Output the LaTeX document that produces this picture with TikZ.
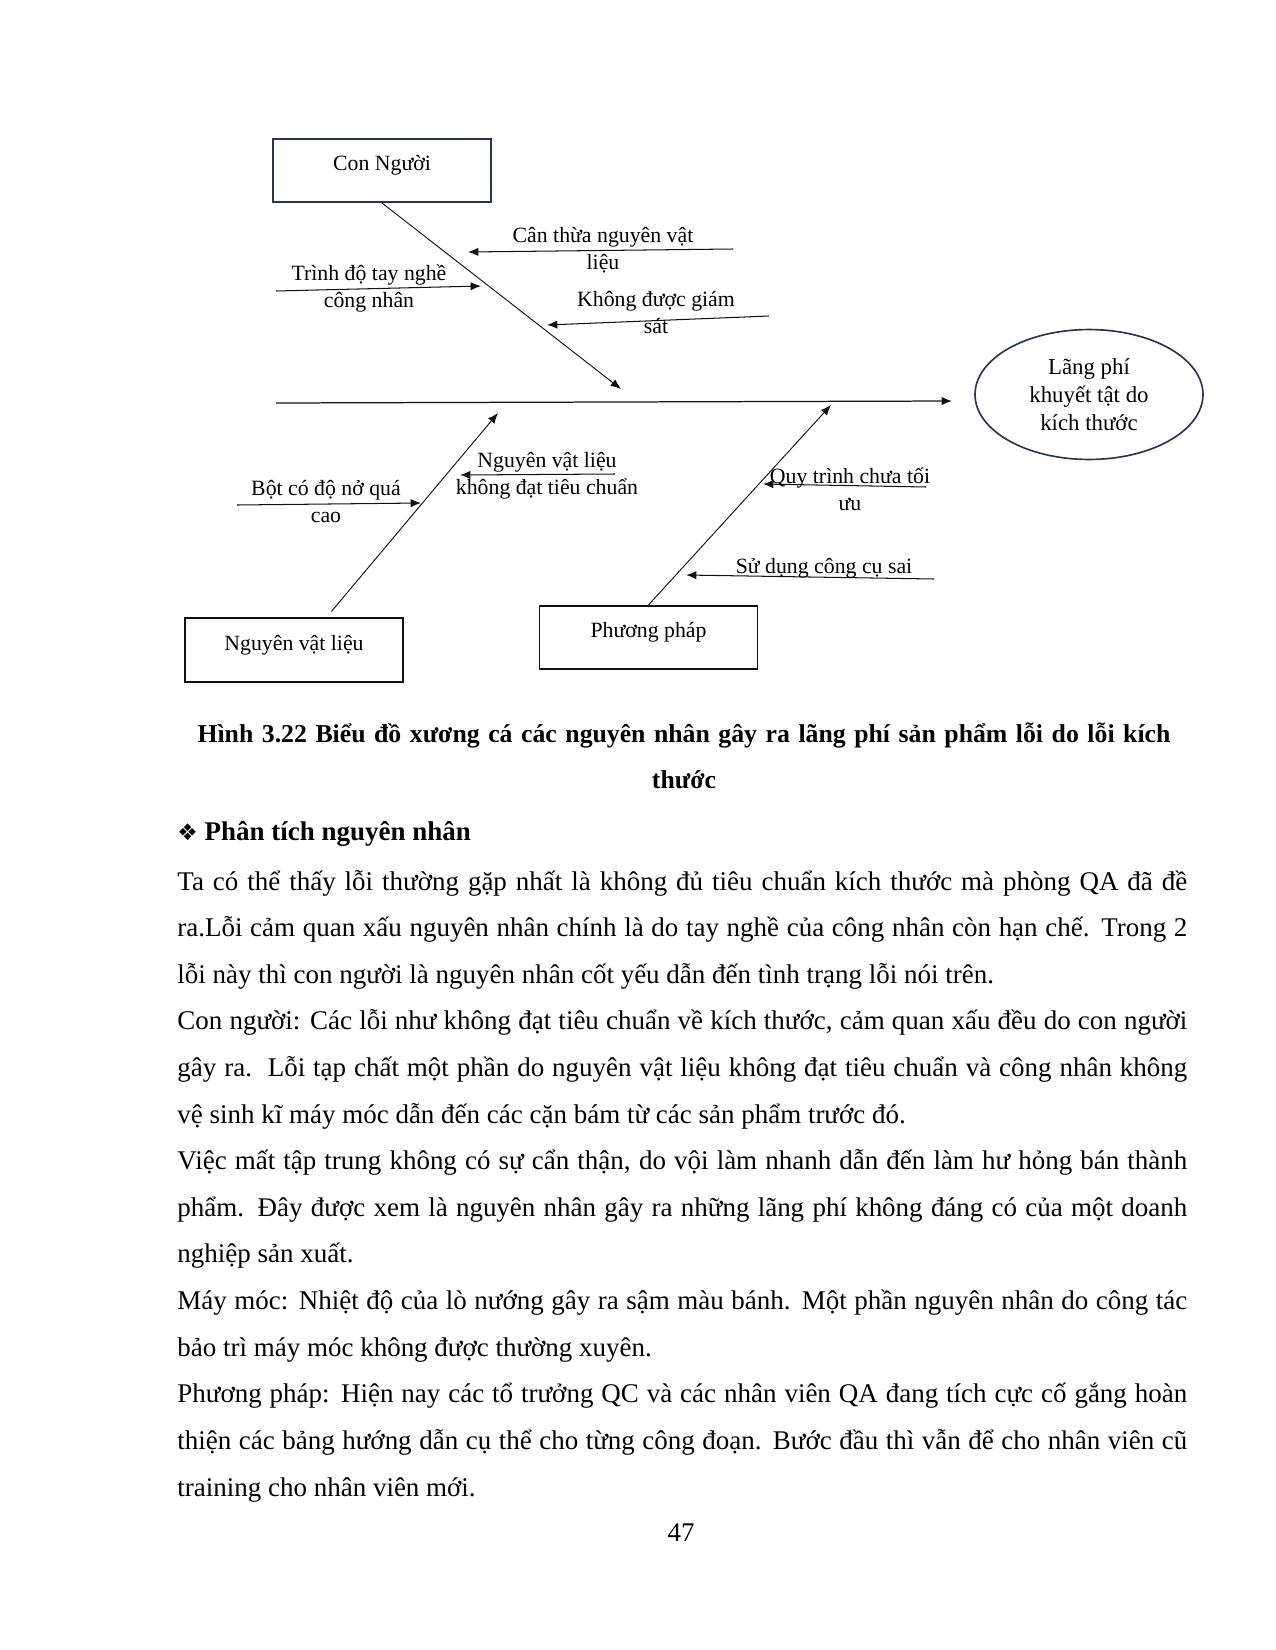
\documentclass[tikz,border=0pt]{standalone}
\usepackage{fontspec}
\setmainfont{Liberation Serif}
\newfontfamily\dingfont{DejaVu Sans}
\usetikzlibrary{arrows.meta,calc,shapes.geometric}
\definecolor{clrN}{RGB}{40,54,84}
\definecolor{clrK}{RGB}{18,18,18}
\hyphenpenalty=10000
\exhyphenpenalty=10000

\begin{document}
\begin{tikzpicture}[x=0.16933mm,y=-0.16933mm,font=\fontsize{10.5}{13}\selectfont,
   cause/.style={rectangle,draw=clrK,line width=0.9pt,minimum width=3.69cm,
     minimum height=1.07cm,text height=8pt,text depth=8pt,inner sep=0pt},
   effect/.style={ellipse,draw=clrN,line width=0.8pt,minimum width=3.86cm,
     minimum height=2.2cm,align=center,inner sep=0pt,font=\fontsize{11}{13.4}\selectfont},
   lbl/.style={align=center,inner sep=0pt},
   bone/.style={-{Latex[length=5pt,width=4pt]},line width=0.45pt,draw=clrK},
   twig/.style={-{Latex[length=5pt,width=4pt]},line width=0.5pt,draw=clrK},
   page/.style={inner sep=0pt,text width=17.1cm,font=\fontsize{13}{22.46}\selectfont}]

  \useasboundingbox (0,0) rectangle (1275,1650);

  \node[cause,draw=clrN] (nguoi) at (382,170.5) {Con Người};
  \node[cause] (nvl) at (294,650) {Nguyên vật liệu};
  \node[cause] (pp) at (648.5,637.5) {Phương pháp};
  \node[effect] (loi) at (1089,394.5) {Lãng phí\\khuyết tật do\\kích thước};

  \coordinate (tail) at (276,403);
  \coordinate (head) at (952,401);
  \coordinate (tipN) at (621,389);
  \coordinate (tipV) at (498,413);
  \coordinate (tipP) at (831,405);

  \draw[bone,line width=0.6pt] (tail) -- (head);
  \draw[bone] (nguoi.south) -- (tipN);
  \draw[bone] ($(nvl.41)+(0,-6)$) -- (tipV);
  \draw[bone] (pp.north) -- (tipP);

  \coordinate (a1) at (733,249); \coordinate (a2) at (468,252);
  \coordinate (b1) at (276,291); \coordinate (b2) at (481,286);
  \coordinate (c1) at (769,316); \coordinate (c2) at (547,325);
  \coordinate (d1) at (237,505); \coordinate (d2) at (421,503);
  \coordinate (e1) at (615,474); \coordinate (e2) at (460,475);
  \coordinate (f1) at (926,487); \coordinate (f2) at (763,484);
  \coordinate (g1) at (934,579); \coordinate (g2) at (686,575);

  \draw[twig] (a1) -- (a2); \draw[twig] (b1) -- (b2);
  \draw[twig] (c1) -- (c2); \draw[twig] (d1) -- (d2);
  \draw[twig] (e1) -- (e2); \draw[twig] (f1) -- (f2);
  \draw[twig] (g1) -- (g2);

  \node[lbl] (canthua) at (603,250) {Cân thừa nguyên vật\\liệu};
  \node[lbl] (trinhdo) at (369,288) {Trình độ tay nghề\\công nhân};
  \node[lbl] (giamsat) at (656,313) {Không được giám\\sát};
  \node[lbl] (botno) at (326,502) {Bột có độ nở quá\\cao};
  \node[lbl] (khongdat) at (547,476) {Nguyên vật liệu\\không đạt tiêu chuẩn};
  \node[lbl] (quytrinh) at (850,489) {Quy trình chưa tối\\ưu};
  \node[lbl] (congcu) at (824,568) {Sử dụng công cụ sai};

  \node[page,align=center,anchor=base,font=\bfseries\fontsize{12.4}{22.46}\selectfont] (hinh) at (684,742)
    {Hình 3.22 Biểu đồ xương cá các nguyên nhân gây ra lãng phí sản phẩm lỗi do lỗi kích\\thước};
  \node[inner sep=0pt,anchor=base west,font=\bfseries\fontsize{13}{22.46}\selectfont] (tieude) at (177,840)
    {{\dingfont\fontsize{11}{13}\selectfont ❖} Phân tích nguyên nhân};
  \node[page,align=justify,anchor=base west] (phantich) at (177,890)
    {\tolerance=10000
     Ta có thể thấy lỗi thường gặp nhất là không đủ tiêu chuẩn kích thước mà phòng QA đã đề\linebreak
     ra.Lỗi cảm quan xấu nguyên nhân chính là do tay nghề của công nhân còn hạn chế. Trong 2\linebreak
     lỗi này thì con người là nguyên nhân cốt yếu dẫn đến tình trạng lỗi nói trên.\par
     Con người: Các lỗi như không đạt tiêu chuẩn về kích thước, cảm quan xấu đều do con người\linebreak
     gây ra.\ \ Lỗi tạp chất một phần do nguyên vật liệu không đạt tiêu chuẩn và công nhân không\linebreak
     vệ sinh kĩ máy móc dẫn đến các cặn bám từ các sản phẩm trước đó.\par
     Việc mất tập trung không có sự cẩn thận, do vội làm nhanh dẫn đến làm hư hỏng bán thành\linebreak
     phẩm. Đây được xem là nguyên nhân gây ra những lãng phí không đáng có của một doanh\linebreak
     nghiệp sản xuất.\par
     Máy móc: Nhiệt độ của lò nướng gây ra sậm màu bánh. Một phần nguyên nhân do công tác\linebreak
     bảo trì máy móc không được thường xuyên.\par
     Phương pháp: Hiện nay các tổ trưởng QC và các nhân viên QA đang tích cực cố gắng hoàn\linebreak
     thiện các bảng hướng dẫn cụ thể cho từng công đoạn. Bước đầu thì vẫn để cho nhân viên cũ\linebreak
     training cho nhân viên mới.};
  \node[inner sep=0pt,font=\fontsize{13}{15}\selectfont] (trang) at (681,1533) {47};
\end{tikzpicture}
\end{document}
